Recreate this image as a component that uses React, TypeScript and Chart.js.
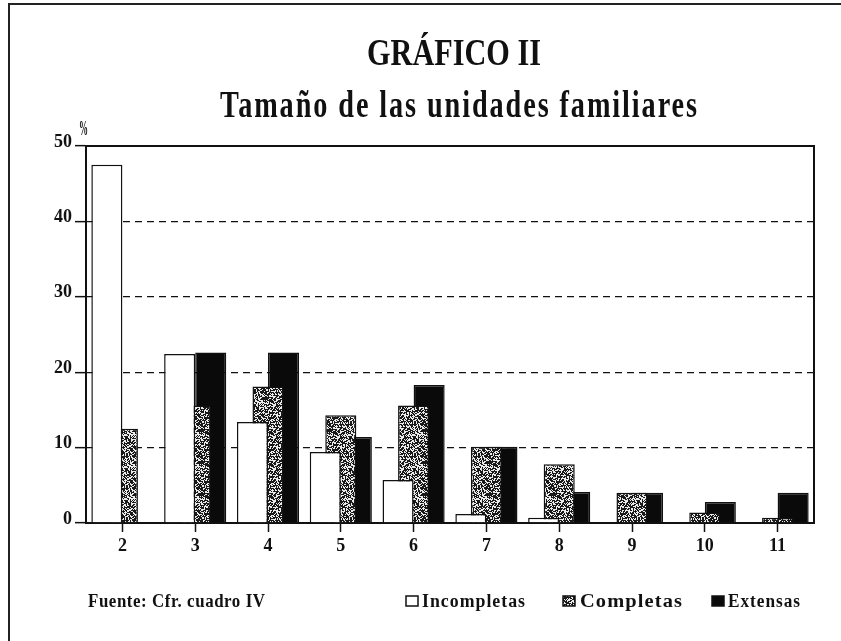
import React, { useEffect, useRef } from 'react';
import { Chart, registerables } from 'chart.js';

Chart.register(...registerables);

// ---- data ----
const categories = ['2', '3', '4', '5', '6', '7', '8', '9', '10', '11'];
const incompletas = [47.5, 22.4, 13.4, 9.4, 5.7, 1.2, 0.7, 0, 0, 0];
const completas = [12.5, 15.6, 18.1, 14.3, 15.6, 10.1, 7.8, 4.0, 1.4, 0.7];
const extensas = [0, 22.6, 22.6, 11.4, 18.3, 10.1, 4.1, 4.0, 2.8, 4.0];
const seriesNames = ['Incompletas', 'Completas', 'Extensas'];
const yMin = 0;
const yMax = 50;
const yStep = 10;
const titleText = 'GRÁFICO II';
const subtitleText = 'Tamaño de las unidades familiares';
const unitText = '%';
const sourceText = 'Fuente: Cfr. cuadro IV';

const INK = '#111';
const SERIF = "'Liberation Serif', 'Times New Roman', serif";

function hash(x: number, y: number): number {
  let n = Math.imul(x, 73856093) ^ Math.imul(y, 19349663);
  n = Math.imul(n ^ (n >>> 13), 1274126177);
  n ^= n >>> 16;
  return (n >>> 0) / 4294967296;
}

function makeSpeckle(): CanvasPattern | string {
  const size = 32;
  const c = document.createElement('canvas');
  c.width = size;
  c.height = size;
  const g = c.getContext('2d');
  if (!g) return '#666';
  const img = g.createImageData(size, size);
  for (let y = 0; y < size; y++) {
    for (let x = 0; x < size; x++) {
      const v = hash(x + 3, y + 7) < 0.55 ? 25 : 235;
      const i = (y * size + x) * 4;
      img.data[i] = v;
      img.data[i + 1] = v;
      img.data[i + 2] = v;
      img.data[i + 3] = 255;
    }
  }
  g.putImageData(img, 0, 0);
  const p = g.createPattern(c, 'repeat');
  return p || '#666';
}

function fitText(
  ctx: CanvasRenderingContext2D,
  text: string,
  left: number,
  baseline: number,
  width: number,
  font: string,
  spacing = 0
) {
  ctx.save();
  ctx.font = font;
  ctx.fillStyle = INK;
  ctx.textAlign = 'left';
  ctx.textBaseline = 'alphabetic';
  const anyCtx = ctx as any;
  const hasLS = 'letterSpacing' in anyCtx;
  if (spacing && hasLS) anyCtx.letterSpacing = `${spacing}px`;
  let w = ctx.measureText(text).width;
  if (spacing && hasLS) w -= spacing;
  const s = width / w;
  ctx.translate(left, baseline);
  ctx.scale(s, 1);
  ctx.fillText(text, 0, 0);
  ctx.restore();
}

export default function App() {
  const ref = useRef<HTMLCanvasElement | null>(null);

  useEffect(() => {
    const canvas = ref.current;
    if (!canvas) return;
    const speckle = makeSpeckle();
    const fills = ['#ffffff', speckle, '#0a0a0a'];
    const seriesData = [incompletas, completas, extensas];

    const decor = {
      id: 'decor',
      afterDraw(chart: any) {
        const ctx: CanvasRenderingContext2D = chart.ctx;
        const a = chart.chartArea;
        ctx.save();
        // page frame (left and top)
        ctx.strokeStyle = '#222';
        ctx.lineWidth = 2;
        ctx.beginPath();
        ctx.moveTo(9, 641);
        ctx.lineTo(9, 4);
        ctx.lineTo(841, 4);
        ctx.stroke();
        // plot frame top and right
        ctx.strokeStyle = INK;
        ctx.lineWidth = 2;
        ctx.beginPath();
        ctx.moveTo(a.left, a.top);
        ctx.lineTo(a.right, a.top);
        ctx.lineTo(a.right, a.bottom);
        ctx.stroke();
        ctx.restore();

        // titles
        fitText(ctx, titleText, 367, 65, 174, `bold 38px ${SERIF}`);
        fitText(ctx, subtitleText, 220, 117, 477, `bold 37px ${SERIF}`, 2.5);
        fitText(ctx, unitText, 79, 135, 9, `bold 20px ${SERIF}`);

        // source
        fitText(ctx, sourceText, 88, 607, 177, `bold 18px ${SERIF}`, 0.6);

        // legend
        const boxX = [406, 563, 712];
        const textX = [422, 580, 728];
        const textW = [103, 102, 72];
        for (let i = 0; i < seriesNames.length; i++) {
          ctx.save();
          ctx.fillStyle = fills[i] as any;
          ctx.fillRect(boxX[i], 596, 12, 10);
          ctx.strokeStyle = INK;
          ctx.lineWidth = 1.5;
          ctx.strokeRect(boxX[i], 596, 12, 10);
          ctx.restore();
          fitText(ctx, seriesNames[i], textX[i], 607, textW[i], `bold 18px ${SERIF}`, 1);
        }
      },
    };

    const chart = new Chart(canvas, {
      type: 'bar',
      data: {
        labels: categories,
        datasets: seriesNames.map((name, i) => ({
          label: name,
          data: seriesData[i],
          backgroundColor: fills[i] as any,
          borderColor: INK,
          borderWidth: 1.5,
          categoryPercentage: 0.64,
          barPercentage: 2.0,
        })),
      },
      options: {
        responsive: false,
        maintainAspectRatio: false,
        animation: false,
        events: [],
        layout: { padding: { top: 146, right: 27, left: 0, bottom: 78 } },
        plugins: {
          legend: { display: false },
          title: { display: false },
          tooltip: { enabled: false },
        },
        scales: {
          x: {
            grid: {
              display: true,
              drawOnChartArea: false,
              drawTicks: true,
              offset: false,
              tickLength: 9,
              tickColor: INK,
              tickWidth: 1.5,
              color: INK,
            },
            border: { display: true, color: INK, width: 2 },
            ticks: {
              color: INK,
              padding: 4,
              font: { family: SERIF, size: 18, weight: 'bold' },
            },
            afterFit(scale: any) {
              scale.height = 40;
            },
          },
          y: {
            min: yMin,
            max: yMax,
            ticks: {
              stepSize: yStep,
              color: INK,
              padding: 3,
              labelOffset: -4,
              font: { family: SERIF, size: 18, weight: 'bold' },
            },
            grid: {
              display: true,
              drawOnChartArea: true,
              drawTicks: true,
              tickLength: 11,
              tickColor: INK,
              tickWidth: 1.5,
              color: INK,
              lineWidth: 1.3,
            },
            border: { display: true, color: INK, width: 2, dash: [7, 5] },
            afterFit(scale: any) {
              scale.width = 86;
            },
          },
        },
      },
      plugins: [decor],
    });

    return () => chart.destroy();
  }, []);

  return (
    <div style={{ position: 'absolute', left: 0, top: 0, width: 841, height: 641, background: '#fff' }}>
      <canvas ref={ref} width={841} height={641} style={{ display: 'block', width: 841, height: 641 }} />
    </div>
  );
}
